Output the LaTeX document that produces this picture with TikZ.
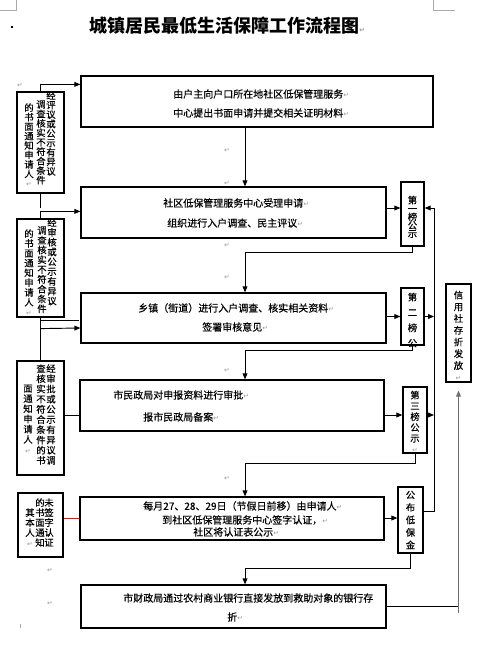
\documentclass[tikz,border=0pt]{standalone}
\usepackage{fontspec}
\newfontfamily\cjk{Noto Sans CJK SC}
\newfontfamily\cjkt{Noto Sans CJK SC}[FakeBold=0.35]
\newfontfamily\sym{DejaVu Sans}
\usetikzlibrary{arrows.meta}
\usetikzlibrary{fit}
\usetikzlibrary{calc}
\definecolor{retgray}{RGB}{150,150,150}
\definecolor{markgray}{RGB}{170,170,170}
\definecolor{linkred}{RGB}{180,40,40}
\definecolor{linkgray}{RGB}{110,110,110}
\newcommand{\ret}{{\color{retgray}\sym\fontsize{5}{5}\selectfont ↵}}
\tikzset{
  box/.style={draw, line width=0.9pt, inner sep=0pt},
  link/.style={line width=0.7pt},
  arr/.style={link, -{Triangle[length=4.5pt,width=3.6pt]}},
  txt/.style={font=\cjkt\fontsize{7.5}{9}\selectfont, inner sep=0pt, anchor=west},
  col/.style={font=\cjkt\fontsize{7}{#1}\selectfont, align=center, inner sep=0pt, anchor=north},
  col/.default=7.2pt,
  retmark/.style={inner sep=0pt},
  corner/.style={draw=markgray, line width=0.6pt}
}

\begin{document}
\begin{tikzpicture}[x=0.75pt,y=0.75pt,yscale=-1,xscale=1]
\useasboundingbox (0,0) rectangle (485,648);

% Title
\node[anchor=west, inner sep=0pt, font=\cjk\bfseries\fontsize{13.5}{16}\selectfont] (title) at (89,26) {城镇居民最低生活保障工作流程图\ret};
\node[fill, inner sep=0pt, minimum size=2.2pt] (dot) at (12,27) {};
% page corner marks
\draw[corner] (16,0) -- (16,10) -- (0,10);
\draw[corner] (433,0) -- (433,10) -- (455,10);
\draw[corner] (20,624) -- (20,628);

%Shape: Rectangle -- main steps
\node[box, fit={(81,76) (433,127)}] (b1) {};
\node[box, fit={(81,187) (386,238)}] (b2) {};
\node[box, fit={(81,293) (386,343)}] (b3) {};
\node[box, fit={(80,380) (384,431)}] (b4) {};
\node[box, fit={(80,497) (384,540)}] (b5) {};
\node[box, fit={(81,585) (386,628)}] (b6) {};
%Shape: Rectangle -- notices on the left
\node[box, fit={(17,92) (64,193)}] (l1) {};
\node[box, fit={(17,219) (64,317)}] (l2) {};
\node[box, fit={(17,361) (64,475)}] (l3) {};
\node[box, fit={(18,493) (63,557)}] (l4) {};
%Shape: Rectangle -- publicity on the right
\node[box, fit={(401,182) (424,246)}] (p1) {};
\node[box, fit={(401,288) (424,345)}] (p2) {};
\node[box, fit={(403,387) (427,453)}] (p3) {};
\node[box, fit={(398,487) (423,553)}] (p4) {};
\node[box, fit={(446,284) (471,382)}] (r) {};

% Text Node
\node[txt] (b1a) at (173,94) {由户主向户口所在地社区低保管理服务\ret};
\node[txt] (b1b) at (173,113) {中心提出书面申请并提交相关证明材料\ret};
\node[txt] (b2a) at (163,203) {社区低保管理服务中心受理申请\ret};
\node[txt] (b2b) at (167,223) {组织进行入户调查、民主评议\ret};
\node[txt] (b3a) at (138,308) {乡镇（街道）进行入户调查、核实相关资料\ret};
\node[txt] (b3b) at (202,327) {签署审核意见\ret};
\node[txt] (b4a) at (113,395) {市民政局对申报资料进行审批\ret};
\node[txt] (b4b) at (143,417) {报市民政局备案\ret};
\node[txt] (b5a) at (143,506) {每月27、28、29日（节假日前移）由申请人\ret};
\node[txt] (b5b) at (162,520) {到社区低保管理服务中心签字认证，\ret};
\node[txt] (b5c) at (193,532) {社区将认证表公示\ret};
\node[txt] (b6a) at (123,598) {市财政局通过农村商业银行直接发放到救助对象的银行存};
\node[txt] (b6b) at (227,617) {折\ret};

% Text Node -- left columns
\node[col=7.1pt] (l1r) at (51,91) {经\\评\\议\\或\\公\\示\\有\\异\\议};
\node[col=7.1pt] (l1m) at (41,100) {调\\查\\核\\实\\不\\符\\合\\条\\件};
\node[col=7.1pt] (l1l) at (29,103) {的\\书\\面\\通\\知\\申\\请\\人\\\ret};
\node[col=7.35pt] (l2r) at (52,218) {经\\审\\核\\或\\公\\示\\有\\异\\议};
\node[col=7.35pt] (l2m) at (42,226) {调\\查\\核\\实\\不\\符\\合\\条\\件};
\node[col=7.35pt] (l2l) at (29,229) {的\\书\\面\\通\\知\\申\\请\\人\\\ret};
\node[col=7.65pt] (l3r) at (51,364) {经\\审\\批\\或\\公\\示\\有\\异\\议\\调};
\node[col=7.65pt] (l3m) at (41,364) {查\\核\\实\\不\\符\\合\\条\\件\\的\\书};
\node[col=7.65pt] (l3l) at (28,384.4) {面\\通\\知\\申\\请\\人\\\ret};
\node[col=7.5pt] (l4r) at (49,498) {未\\签\\字\\认\\证};
\node[col=7.5pt] (l4m) at (40,498) {的\\书\\面\\通\\知};
\node[col=7.5pt] (l4l) at (30,508) {其\\本\\人\\\ret};

% Text Node -- right columns
\node[col=6.3pt] (p1t) at (412.5,195.5) {第\\一\\榜\\公\\示};
\node[col=11.5pt] (p2t) at (412.5,292.5) {第\\二\\榜\\公};
\node[col=8.1pt] (p3t) at (415,390.5) {第\\三\\榜\\公\\示\\\ret};
\node[col=9.4pt] (p4t) at (410.5,490.5) {公\\布\\低\\保\\金};
\node[col=8.8pt] (rt) at (458.5,290.5) {信\\用\\社\\存\\折\\发\\放\\\ret};

% Text Node -- paragraph marks
\node[retmark] (m1) at (20,85) {\ret};
\node[retmark] (m2) at (227,150) {\ret};
\node[retmark] (m3) at (227,183) {\ret};
\node[retmark] (m4) at (227,245) {\ret};
\node[retmark] (m5) at (227,277) {\ret};
\node[retmark] (m6) at (227,370) {\ret};
\node[retmark] (m7) at (227,478) {\ret};
\node[retmark] (m8) at (50,570) {\ret};
\node[retmark] (m9) at (50,603) {\ret};

% helper coordinates
\coordinate (trunk) at (245,0);
\coordinate (bus) at (434,208);
\coordinate (busend) at (434,511);
\coordinate (row4) at (0,415);
\coordinate (row5) at (0,518);
\coordinate (row6) at (0,606);
\coordinate (rfoot) at (458.5,613);

%Straight Lines -- main chain
\draw[arr] (b1.south -| trunk) -- (b2.north -| trunk);
\draw[arr] (b2.east |- bus) -- (p1.west |- bus);
\draw[arr] (p1.south) -- ++(0,6) -| (b3.north -| trunk);
\draw[arr] (b3.east |- p2.west) -- (p2.west);
\draw[arr] (p2.east) -- (p2.east -| bus);
\draw[arr] (p2.south) -- ++(0,5) -| (b4.north -| trunk);
\draw[arr] (b4.east |- row4) -- (p3.west |- row4);
\draw[arr] (p3.east |- row4) -- (bus |- row4);
\draw[arr] (p3.south) -- ++(0,10) -| (b5.north -| trunk);
\draw[arr] (b5.east |- row5) -- (p4.west |- row5);
\draw[arr] (p4.south) -- ++(0,15) -| (b6.north -| trunk);
\draw[arr] (p4.east |- busend) -- (busend) -- (bus) -- (p1.east |- bus);
\draw[link] (b6.east |- row6) -- (rfoot |- row6);
\draw[arr, draw=linkgray, shorten >=6pt] (rfoot) -- (r.south -| rfoot);

%Straight Lines -- left notices
\draw[arr] (l1.north) |- ($(b1.north west)+(0,9)$);
\draw[link] (l1.south) -- ++(0,14);
\draw[arr] (l2.north) |- ($(b2.north west)+(0,25)$);
\draw[link] (l2.south) -- (l3.north);
\draw[link] ($(l2.south)+(0,3)$) -- ++(38,0);
\draw[arr] ($(l2.south)+(0,11)$) -- ($(b3.west)+(0,10)$);
\draw[link] (l3.east |- row4) -- (b4.west |- row4);
\draw[link, draw=linkred] (l4.east |- row5) -- (b5.west |- row5);

\end{tikzpicture}
\end{document}
